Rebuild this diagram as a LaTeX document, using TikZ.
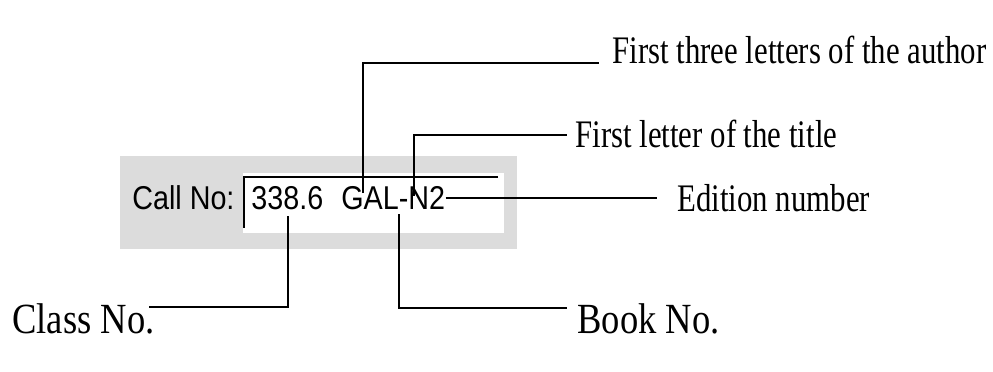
\documentclass[tikz,border=0pt]{standalone}
\usepackage{fontspec}
\setmainfont{Liberation Serif}
\newfontfamily\labtop[FakeStretch=0.79]{Liberation Serif}
\newfontfamily\labbot[FakeStretch=0.85]{Liberation Serif}
\newfontfamily\uisans[FakeStretch=0.87]{Liberation Sans}
\definecolor{panelgray}{HTML}{DCDCDC}
\begin{document}
\begin{tikzpicture}[x=0.5pt,y=-0.5pt,
  conn/.style={line width=1pt, line cap=butt},
  toplab/.style={font=\labtop\fontsize{19.5pt}{22pt}\selectfont, inner sep=0pt, anchor=base west},
  botlab/.style={font=\labbot\fontsize{21.5pt}{24pt}\selectfont, inner sep=0pt, anchor=base west},
  uitext/.style={font=\uisans\fontsize{16.5pt}{18pt}\selectfont, inner sep=0pt, anchor=base west}]
\useasboundingbox (0,0) rectangle (993,371);
% panel
\fill[panelgray] (120,156) rectangle (517,249);
\fill[white] (243,173) rectangle (504,233);
\draw[conn] (498,177) -- (244,177) -- (244,228);
% texts in the panel
\node[uitext] (call) at (132,209) {Call No:};
\node[uitext] (num) at (251,209) {338.6\hspace{0.55em}GAL-N2};
% labels
\node[toplab] (author) at (612,63) {First three letters of the author};
\node[toplab] (title) at (575,147) {First letter of the title};
\node[toplab] (edition) at (677,211) {Edition number};
\node[botlab] (class) at (12,333) {Class No.};
\node[botlab] (book) at (577,333) {Book No.};
% points on the call number
\coordinate (pA) at (363,193);
\coordinate (pT) at (414,196);
\coordinate (pC) at (288,216);
\coordinate (pB) at (399,214);
% connectors
\draw[conn, shorten >=6.5pt] (pA) |- (author.base west);
\draw[conn, shorten >=4pt] (pT) |- ([yshift=6pt]title.base west);
\draw[conn, shorten >=10pt] (num.east) -- (num.east -| edition.west);
\draw[conn] (pC) |- ([shift={(-6,4)}]class.north east);
\draw[conn] (pB) |- ([shift={(-10,5)}]book.north west);
\end{tikzpicture}
\end{document}
